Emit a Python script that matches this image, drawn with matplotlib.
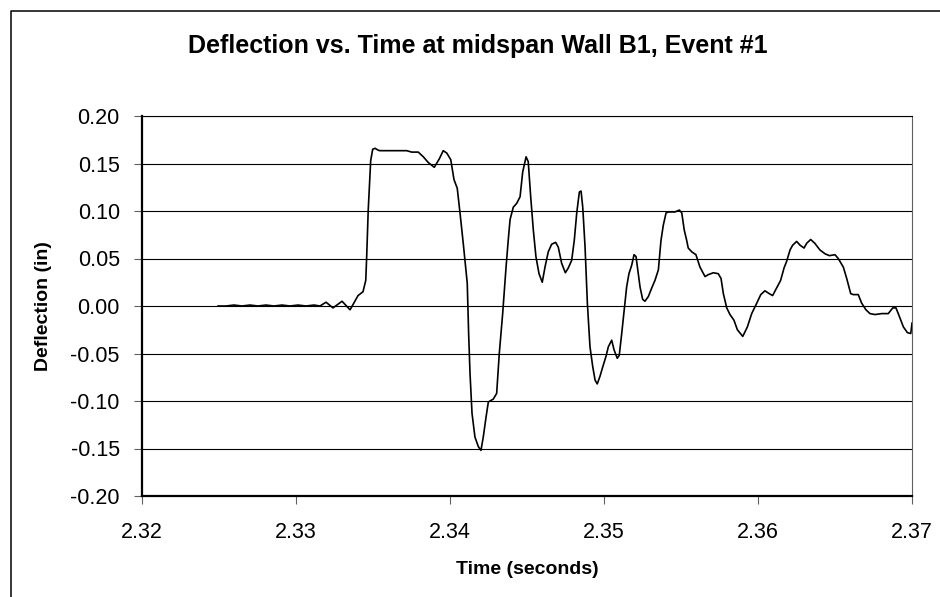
import matplotlib
matplotlib.use("Agg")
import matplotlib.pyplot as plt
from matplotlib.lines import Line2D

plt.rcParams['font.family'] = ['Liberation Sans', 'DejaVu Sans']

# Time (seconds)
time_s = [
    2.32494, 2.32545, 2.32597, 2.32649, 2.32701, 2.32753, 2.32805, 2.32857, 2.32909, 2.32961,
    2.33013, 2.33065, 2.33117, 2.33156, 2.33195, 2.33240, 2.33299, 2.33351, 2.33403, 2.33435,
    2.33453, 2.33459, 2.33469, 2.33485, 2.33498, 2.33513, 2.33534,
    2.33545, 2.33719, 2.33751, 2.33794, 2.33827, 2.33859, 2.33898, 2.33931, 2.33956, 2.33979,
    2.34005, 2.34026, 2.34047, 2.34065, 2.34086, 2.34112, 2.34121, 2.34130, 2.34143, 2.34162,
    2.34184, 2.34201, 2.34216, 2.34234, 2.34249, 2.34281, 2.34303, 2.34320, 2.34342, 2.34364,
    2.34378, 2.34390, 2.34411, 2.34433, 2.34455, 2.34472, 2.34494, 2.34508, 2.34524, 2.34541,
    2.34558, 2.34578, 2.34599, 2.34617, 2.34638, 2.34660, 2.34686, 2.34703, 2.34725, 2.34749,
    2.34768, 2.34790, 2.34807, 2.34823, 2.34840, 2.34851, 2.34862, 2.34877, 2.34892, 2.34909,
    2.34927, 2.34942, 2.34956, 2.34974, 2.34992, 2.35013, 2.35028, 2.35050, 2.35065, 2.35086,
    2.35099, 2.35115, 2.35136, 2.35147, 2.35162, 2.35180, 2.35195, 2.35208, 2.35223, 2.35234,
    2.35251, 2.35266, 2.35288, 2.35310, 2.35331, 2.35353, 2.35370, 2.35385, 2.35403, 2.35418,
    2.35461, 2.35489, 2.35505, 2.35521, 2.35537, 2.35547, 2.35570, 2.35597, 2.35623, 2.35656,
    2.35677, 2.35710, 2.35742, 2.35760, 2.35775, 2.35797, 2.35818, 2.35844, 2.35866, 2.35901,
    2.35931, 2.35959, 2.35992, 2.36018, 2.36045, 2.36073, 2.36095, 2.36121, 2.36147, 2.36169,
    2.36186, 2.36208, 2.36225, 2.36251, 2.36273, 2.36299, 2.36316, 2.36342, 2.36369, 2.36402,
    2.36435, 2.36463, 2.36500, 2.36521, 2.36554, 2.36576, 2.36602, 2.36619, 2.36651, 2.36673,
    2.36701, 2.36727, 2.36760, 2.36803, 2.36846, 2.36875, 2.36896, 2.36918, 2.36944, 2.36970,
    2.36992, 2.37000,
]

# Deflection (in)
deflection_in = [
    0.000, 0.000, 0.001, 0.000, 0.001, 0.000, 0.001, 0.000, 0.001, 0.000,
    0.001, 0.000, 0.001, 0.000, 0.004, -0.002, 0.005, -0.004, 0.011, 0.015,
    0.027, 0.052, 0.101, 0.153, 0.165, 0.166, 0.164,
    0.1635, 0.1635, 0.162, 0.162, 0.157, 0.151, 0.146, 0.155, 0.1635, 0.161,
    0.154, 0.133, 0.124, 0.098, 0.066, 0.024, -0.029, -0.071, -0.113, -0.138,
    -0.148, -0.152, -0.138, -0.117, -0.101, -0.098, -0.092, -0.050, -0.008, 0.041,
    0.069, 0.091, 0.104, 0.108, 0.115, 0.141, 0.157, 0.152, 0.115, 0.080,
    0.052, 0.034, 0.025, 0.041, 0.057, 0.065, 0.067, 0.062, 0.045, 0.035,
    0.040, 0.048, 0.069, 0.098, 0.120, 0.121, 0.104, 0.062, 0.003, -0.043,
    -0.064, -0.078, -0.082, -0.074, -0.064, -0.053, -0.043, -0.036, -0.046, -0.055,
    -0.052, -0.029, 0.003, 0.020, 0.034, 0.043, 0.054, 0.052, 0.034, 0.020,
    0.007, 0.005, 0.010, 0.019, 0.027, 0.038, 0.069, 0.085, 0.098, 0.099,
    0.099, 0.101, 0.098, 0.080, 0.069, 0.061, 0.057, 0.054, 0.041, 0.031,
    0.033, 0.035, 0.034, 0.029, 0.013, -0.002, -0.009, -0.015, -0.025, -0.032,
    -0.022, -0.008, 0.003, 0.012, 0.016, 0.013, 0.011, 0.019, 0.027, 0.040,
    0.047, 0.059, 0.064, 0.068, 0.064, 0.061, 0.066, 0.070, 0.066, 0.059,
    0.055, 0.053, 0.054, 0.050, 0.041, 0.029, 0.013, 0.012, 0.012, 0.003,
    -0.004, -0.008, -0.009, -0.008, -0.008, -0.002, -0.002, -0.011, -0.022, -0.028,
    -0.029, -0.018,
]

x_ticks = [2.32, 2.33, 2.34, 2.35, 2.36, 2.37]
x_tick_labels = ["2.32", "2.33", "2.34", "2.35", "2.36", "2.37"]
y_ticks = [-0.20, -0.15, -0.10, -0.05, 0.00, 0.05, 0.10, 0.15, 0.20]
y_tick_labels = ["-0.20", "-0.15", "-0.10", "-0.05", "0.00", "0.05", "0.10", "0.15", "0.20"]

title = "Deflection vs. Time at midspan Wall B1, Event #1"
x_label = "Time (seconds)"
y_label = "Deflection (in)"

W, H = 940, 597
fig = plt.figure(figsize=(W / 100, H / 100), dpi=100)
fig.patch.set_facecolor("white")

# outer chart-area frame (left and top visible)
fx = 11 / W
fy = 1 - 11 / H
fig.add_artist(Line2D([fx, fx, 1.0], [0.0, fy, fy], transform=fig.transFigure,
                      color="black", lw=1.1))

left, right = 142 / W, 912 / W
bottom, top = 1 - 496 / H, 1 - 116 / H
ax = fig.add_axes([left, bottom, right - left, top - bottom])

ax.plot(time_s, deflection_in, color="black", lw=1.2, solid_joinstyle="round")

ax.set_xlim(2.32, 2.37)
ax.set_ylim(-0.20, 0.20)
ax.set_xticks(x_ticks)
ax.set_xticklabels(x_tick_labels)
ax.set_yticks(y_ticks)
ax.set_yticklabels(y_tick_labels)

ax.yaxis.grid(True, color="black", lw=0.8)
ax.set_axisbelow(True)

for s in ["left", "bottom"]:
    ax.spines[s].set_linewidth(1.6)
    ax.spines[s].set_color("black")
ax.spines["top"].set_linewidth(0.8)
ax.spines["top"].set_color("black")
ax.spines["right"].set_linewidth(0.8)
ax.spines["right"].set_color("#606060")

ax.tick_params(axis="y", direction="out", length=6, width=0.8, color="#606060",
               pad=10, labelsize=15.5)
ax.tick_params(axis="x", direction="out", length=5.5, width=0.8, color="#606060",
               pad=13, labelsize=15.5)

fig.text(478 / W, 1 - 46 / H, title, ha="center", va="center",
         fontsize=18, fontweight="bold")
fig.text(527 / W, 1 - 570 / H, x_label, ha="center", va="center",
         fontsize=14, fontweight="bold")
fig.text(43 / W, 1 - 306 / H, y_label, ha="center", va="center",
         rotation=90, fontsize=14, fontweight="bold")

fig.savefig("out.png", dpi=100, facecolor="white")
